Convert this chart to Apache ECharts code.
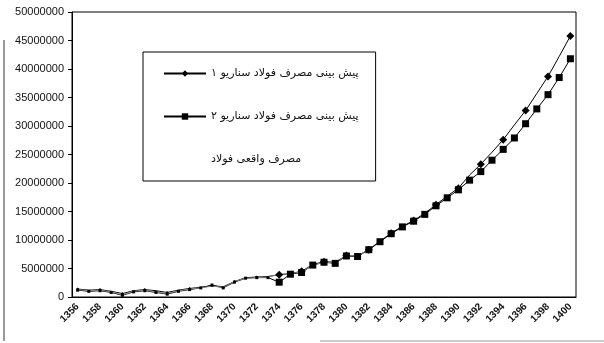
<!DOCTYPE html>
<html>
<head>
<meta charset="utf-8">
<script src="https://cdn.jsdelivr.net/npm/echarts@6/dist/echarts.min.js"></script>
<style>
html,body{margin:0;padding:0;background:#fff;}
#main{width:604px;height:343px;}
</style>
</head>
<body>
<div id="main"></div>
<script>
//سال ها
var years = ['1356','1357','1358','1359','1360','1361','1362','1363','1364','1365',
    '1366','1367','1368','1369','1370','1371','1372','1373','1374','1375',
    '1376','1377','1378','1379','1380','1381','1382','1383','1384','1385',
    '1386','1387','1388','1389','1390','1391','1392','1393','1394','1395',
    '1396','1397','1398','1399','1400'];

//پیش بینی سناریو ۱
var scenario1 = [1400000,1200000,1300000,1000000,600000,1100000,1300000,1100000,800000,1200000,
    1500000,1700000,2000000,1800000,2700000,3400000,3500000,3600000,3900000,4100000,
    4500000,5700000,6200000,6100000,7300000,7200000,8300000,9800000,11200000,12400000,
    13400000,14700000,16200000,17700000,19100000,21400000,23300000,25400000,27600000,30200000,
    32700000,35700000,38700000,42200000,45800000];

//پیش بینی سناریو ۲
var scenario2 = [1200000,1000000,1100000,800000,300000,900000,1100000,800000,500000,1000000,
    1300000,1600000,2100000,1600000,2600000,3300000,3400000,3400000,2600000,4000000,
    4300000,5600000,6100000,5900000,7200000,7100000,8300000,9700000,11100000,12300000,
    13300000,14500000,16000000,17400000,18800000,20500000,22000000,24000000,25900000,27900000,
    30400000,33000000,35500000,38500000,41800000];

//مصرف واقعی
var actual = [1300000,1100000,1200000,900000,400000,1000000,1200000,900000,600000,1100000,
    1400000,1600000,1900000,1700000,2700000,3300000,3400000,3500000,4000000,4100000,
    4400000,5600000,6100000,6000000,7300000,7200000,8300000];

var names = ['پیش بینی مصرف فولاد سناریو ۱', 'پیش بینی مصرف فولاد سناریو ۲', 'مصرف واقعی فولاد'];

var chart = echarts.init(document.getElementById('main'));

//نشانگرهای سال های اول کوچک تر هستند
function markSize(big) {
    return function (val, params) {
        return params.dataIndex < 18 ? 3 : big;
    };
}

var option = {
    backgroundColor: '#fff',
    animation: false,
    grid: {
        left: 72,
        right: 28,
        top: 12,
        bottom: 46,
        show: true,
        borderColor: '#000',
        borderWidth: 1
    },
    legend: {
        orient: 'vertical',
        left: 143,
        top: 52,
        padding: [16, 17, 16, 20],
        itemGap: 32,
        itemWidth: 42,
        itemHeight: 8,
        borderColor: '#000',
        borderWidth: 1,
        backgroundColor: '#fff',
        textStyle: {
            fontFamily: 'DejaVu Sans',
            fontSize: 11,
            color: '#111'
        },
        data: [
            {name: names[0]},
            {name: names[1]},
            {name: names[2], icon: 'none'}
        ]
    },
    xAxis: {
        type: 'category',
        data: years,
        boundaryGap: true,
        axisLine: {lineStyle: {color: '#000', width: 1}},
        axisTick: {interval: 1, length: 4, lineStyle: {color: '#000'}},
        axisLabel: {
            interval: 1,
            rotate: 45,
            margin: 8,
            fontFamily: 'Liberation Sans',
            fontSize: 10,
            fontWeight: 'bold',
            color: '#111'
        }
    },
    yAxis: {
        type: 'value',
        min: 0,
        max: 50000000,
        interval: 5000000,
        splitLine: {show: false},
        axisLine: {show: true, lineStyle: {color: '#000', width: 1}},
        axisTick: {show: true, length: 4, lineStyle: {color: '#000'}},
        axisLabel: {
            margin: 8,
            fontFamily: 'Liberation Sans',
            fontSize: 11,
            color: '#111',
            formatter: function (v) { return String(v); }
        }
    },
    series: [
        {
            name: names[0],
            type: 'line',
            data: scenario1,
            symbol: 'diamond',
            symbolSize: markSize(8),
            lineStyle: {color: '#000', width: 1},
            itemStyle: {color: '#000'}
        },
        {
            name: names[1],
            type: 'line',
            data: scenario2,
            symbol: 'rect',
            symbolSize: markSize(7),
            lineStyle: {color: '#000', width: 1},
            itemStyle: {color: '#000'}
        },
        {
            name: names[2],
            type: 'line',
            data: actual,
            showSymbol: false,
            lineStyle: {color: '#888', width: 1},
            itemStyle: {color: '#888'}
        }
    ],
    //کادر بیرونی نمودار
    graphic: [
        {
            type: 'polyline',
            silent: true,
            shape: {points: [[4, 40], [4, 341]]},
            style: {stroke: '#333', lineWidth: 1, fill: null}
        },
        {
            type: 'polyline',
            silent: true,
            shape: {points: [[320, 341], [604, 341]]},
            style: {stroke: '#999', lineWidth: 1, fill: null}
        }
    ]
};

chart.setOption(option);
</script>
</body>
</html>
